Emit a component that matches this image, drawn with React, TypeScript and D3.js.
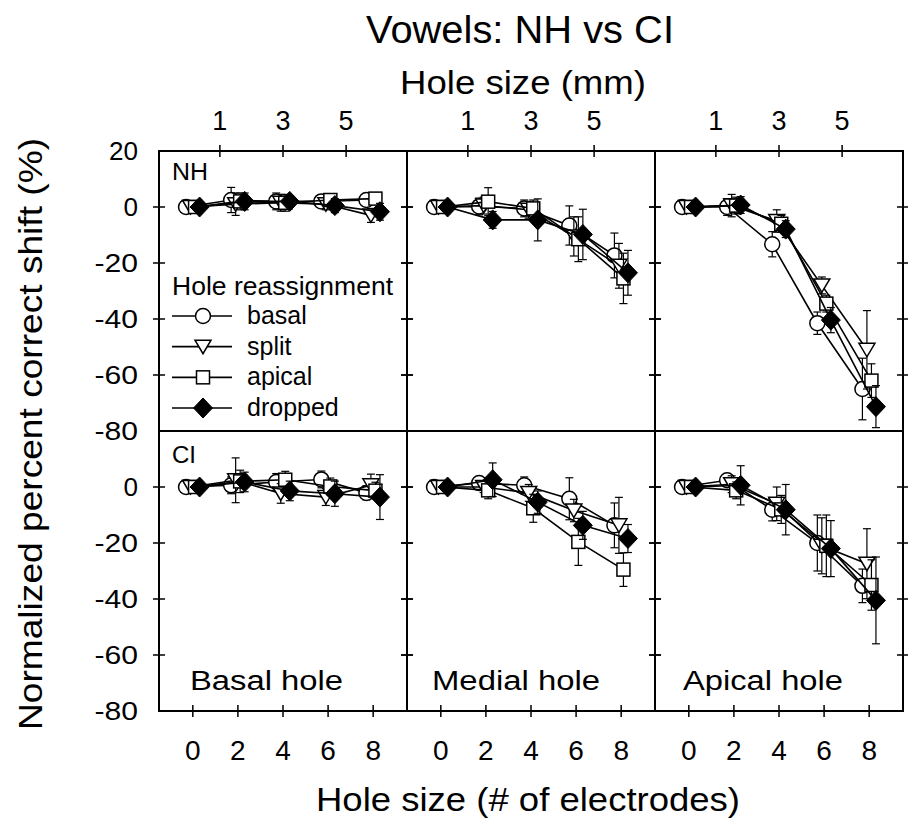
import React, { useEffect, useRef } from 'react'
import * as d3 from 'd3'

const holeSizes = [0, 2, 4, 6, 8]
const mmTicks = [1, 3, 5]
const yTicksTop = [20, 0, -20, -40, -60, -80]
const yTicksBottom = [0, -20, -40, -60, -80]
const holePositions = ['Basal hole', 'Medial hole', 'Apical hole']
const listenerGroups = ['NH', 'CI']
const reassignments = ['basal', 'split', 'apical', 'dropped']

// rows: basal, split, apical, dropped ; columns: hole size 0,2,4,6,8
const nhBasalMean = [
    [0, 2.5, 2, 2, 2.5],
    [0, 1, 1.5, 1, -3],
    [0, 2, 1.5, 2.5, 3],
    [0, 2, 2, 0.5, -1.7],
]
const nhBasalErr = [
    [0, 4.5, 3, 2, 2],
    [0, 4, 3, 2, 2.5],
    [0, 3, 3, 2, 2],
    [0, 3, 2, 2.5, 3],
]
const nhMedialMean = [
    [0, 0.2, -0.5, -6.6, -17.3],
    [0, 0.5, -1, -10.5, -21],
    [0, 1.9, -0.5, -11.5, -25.5],
    [0, -4.6, -4.6, -9.8, -23.5],
]
const nhMedialErr = [
    [0, 3, 3, 7, 8],
    [0, 3, 3, 7, 8],
    [0, 5, 3, 8, 9],
    [0, 3, 7.5, 9, 8],
]
const nhApicalMean = [
    [0, 0, -13.3, -41.5, -65],
    [0, 0.5, -5, -28, -51],
    [0, 0.5, -6, -34.5, -62],
    [0, 0.7, -7.9, -40.4, -71.3],
]
const nhApicalErr = [
    [0, 3, 4.5, 4, 11],
    [0, 4, 4, 3, 14],
    [0, 3, 3, 3, 6],
    [0, 3, 3, 4.5, 7.5],
]
const ciBasalMean = [
    [0, 0.6, 1.8, 2.7, -2.1],
    [0, 2.4, -2.3, -3.6, 0.6],
    [0, 2, 2.6, 0.2, -1.3],
    [0, 1.8, -1.4, -2.4, -3.6],
]
const ciBasalErr = [
    [0, 3, 3, 3, 2.5],
    [0, 8, 3.5, 3, 4],
    [0, 4, 3, 3, 3],
    [0, 3.5, 3.5, 4.5, 8],
]
const ciMedialMean = [
    [0, 1.4, 0.6, -4.2, -13.7],
    [0, 0, -2.1, -8.4, -13.7],
    [0, -1.2, -7.6, -19.6, -29.5],
    [0, 2.6, -5.4, -13.7, -18.4],
]
const ciMedialErr = [
    [0, 2, 3, 7.5, 8],
    [0, 2, 3, 4, 10],
    [0, 3, 5, 8.4, 6],
    [0, 6, 4, 5, 5],
]
const ciApicalMean = [
    [0, 2.4, -8.1, -20, -35.3],
    [0, 1, -6, -21, -27.4],
    [0, -1.2, -8, -21, -35],
    [0, 0.6, -8.1, -22, -40.5],
]
const ciApicalErr = [
    [0, 2, 4, 10, 6],
    [0, 3, 6, 10, 12.5],
    [0, 3, 5, 11, 9],
    [0, 7, 9, 10, 15.5],
]

const panelMeans = [
    [nhBasalMean, nhMedialMean, nhApicalMean],
    [ciBasalMean, ciMedialMean, ciApicalMean],
]
const panelErrs = [
    [nhBasalErr, nhMedialErr, nhApicalErr],
    [ciBasalErr, ciMedialErr, ciApicalErr],
]

const FONT = "'Liberation Sans', Arial, Helvetica, sans-serif"

function drawMarker(g, s, cx, cy) {
    if (s === 'basal') {
        g.append('circle').attr('cx', cx).attr('cy', cy).attr('r', 7.5)
            .attr('fill', '#fff').attr('stroke', '#000').attr('stroke-width', 1.5)
    } else if (s === 'split') {
        g.append('path')
            .attr('d', `M${cx - 8},${cy - 6.5}L${cx + 8},${cy - 6.5}L${cx},${cy + 7}Z`)
            .attr('fill', '#fff').attr('stroke', '#000').attr('stroke-width', 1.5)
    } else if (s === 'apical') {
        g.append('rect').attr('x', cx - 6.5).attr('y', cy - 6.5).attr('width', 13).attr('height', 13)
            .attr('fill', '#fff').attr('stroke', '#000').attr('stroke-width', 1.5)
    } else {
        g.append('path')
            .attr('d', `M${cx},${cy - 10}L${cx + 9.5},${cy}L${cx},${cy + 10}L${cx - 9.5},${cy}Z`)
            .attr('fill', '#000').attr('stroke', '#000').attr('stroke-width', 1)
    }
}

function addText(g, txt, x, y, size, anchor = 'start', len = null) {
    const t = g.append('text')
        .attr('x', x).attr('y', y)
        .attr('font-family', FONT).attr('font-size', size)
        .attr('text-anchor', anchor).attr('fill', '#000')
        .text(txt)
    if (len) t.attr('textLength', len).attr('lengthAdjust', 'spacingAndGlyphs')
    return t
}

export default function App() {
    const svgRef = useRef(null)

    useEffect(() => {
        const svg = d3.select(svgRef.current)
        svg.selectAll('*').remove()

        const col = d3.scaleBand().domain(holePositions).range([159, 903])
        const row = d3.scaleBand().domain(listenerGroups).range([151, 711])
        const pw = col.bandwidth()
        const ph = row.bandwidth()
        const x = d3.scaleLinear().domain([-1.5, 9.5]).range([0, pw])
        const y = d3.scaleLinear().domain([-80, 20]).range([ph, 0])
        const mmToElectrodes = d3.scaleLinear().domain([1, 5]).range([1.2, 6.8])
        const offset = d3.scalePoint().domain(reassignments).range([-0.3, 0.3])
        const line = d3.line()

        listenerGroups.forEach((grp, ri) => {
            holePositions.forEach((hole, ci) => {
                const g = svg.append('g')
                    .attr('transform', `translate(${col(hole)},${row(grp)})`)

                // y ticks on both vertical borders
                ;[0, pw].forEach((bx) => {
                    g.selectAll(null)
                        .data([0, -20, -40, -60])
                        .enter()
                        .append('line')
                        .attr('x1', bx - 6).attr('x2', bx + 6)
                        .attr('y1', (d) => y(d)).attr('y2', (d) => y(d))
                        .attr('stroke', '#000').attr('stroke-width', 1.5)
                })

                if (ri === 0) {
                    mmTicks.forEach((mm) => {
                        const tx = x(mmToElectrodes(mm))
                        g.append('line').attr('x1', tx).attr('x2', tx).attr('y1', -6).attr('y2', 6)
                            .attr('stroke', '#000').attr('stroke-width', 1.5)
                        addText(g, String(mm), tx, -21, 27, 'middle')
                    })
                } else {
                    holeSizes.forEach((h) => {
                        const tx = x(h)
                        g.append('line').attr('x1', tx).attr('x2', tx).attr('y1', ph - 6).attr('y2', ph + 6)
                            .attr('stroke', '#000').attr('stroke-width', 1.5)
                        addText(g, String(h), tx, ph + 49, 28, 'middle')
                    })
                }

                const means = panelMeans[ri][ci]
                const errs = panelErrs[ri][ci]
                reassignments.forEach((s, si) => {
                    const pts = holeSizes.map((h, i) => ({
                        px: x(h + offset(s)),
                        m: means[si][i],
                        e: errs[si][i],
                    }))
                    pts.filter((p) => p.e > 0).forEach((p) => {
                        const y1 = y(p.m + p.e)
                        const y2 = y(p.m - p.e)
                        g.append('line').attr('x1', p.px).attr('x2', p.px).attr('y1', y1).attr('y2', y2)
                            .attr('stroke', '#000').attr('stroke-width', 1.2)
                        ;[y1, y2].forEach((yy) => {
                            g.append('line').attr('x1', p.px - 4).attr('x2', p.px + 4).attr('y1', yy).attr('y2', yy)
                                .attr('stroke', '#000').attr('stroke-width', 1.2)
                        })
                    })
                    g.append('path')
                        .attr('d', line(pts.map((p) => [p.px, y(p.m)])))
                        .attr('fill', 'none').attr('stroke', '#000').attr('stroke-width', 1.6)
                    pts.forEach((p) => drawMarker(g, s, p.px, y(p.m)))
                })

                g.append('rect').attr('width', pw).attr('height', ph)
                    .attr('fill', 'none').attr('stroke', '#000').attr('stroke-width', 2)

                if (ci === 0) {
                    addText(g, grp, 13, ri === 0 ? 29 : 32, 23, 'start', grp === 'NH' ? 36 : 24)
                }
                if (ri === 1) {
                    const lens = [153, 168, 160]
                    const lx = [31, 25, 28]
                    addText(g, hole, lx[ci], 259, 27, 'start', lens[ci])
                }
            })
        })

        // y tick labels
        yTicksTop.forEach((v) => addText(svg, String(v), 138, row('NH') + y(v) + 9, 25, 'end', String(v).length * 14.5))
        yTicksBottom.forEach((v) => addText(svg, String(v), 138, row('CI') + y(v) + 9, 25, 'end', String(v).length * 14.5))

        // legend
        const lg = svg.append('g')
        addText(lg, 'Hole reassignment', 172, 295, 25, 'start', 221)
        const legendY = d3.scalePoint().domain(reassignments).range([316, 408])
        reassignments.forEach((s) => {
            const ly = legendY(s)
            lg.append('line').attr('x1', 172).attr('x2', 232).attr('y1', ly).attr('y2', ly)
                .attr('stroke', '#000').attr('stroke-width', 1.6)
            drawMarker(lg, s, 203, ly)
            addText(lg, s, 247, ly + 8, 25)
        })

        // titles
        addText(svg, 'Vowels: NH vs CI', 520, 43, 38, 'middle', 308)
        addText(svg, 'Hole size (mm)', 523, 94, 33, 'middle', 246)
        addText(svg, 'Hole size (# of electrodes)', 528, 811, 33, 'middle', 424)
        addText(svg, 'Normalized percent correct shift (%)', 0, 0, 34, 'middle', 592)
            .attr('transform', `translate(42, 434) rotate(-90)`)
    }, [])

    return (
        <svg
            ref={svgRef}
            width={908}
            height={822}
            style={{ position: 'absolute', left: 0, top: 0, background: '#fff' }}
        />
    )
}
